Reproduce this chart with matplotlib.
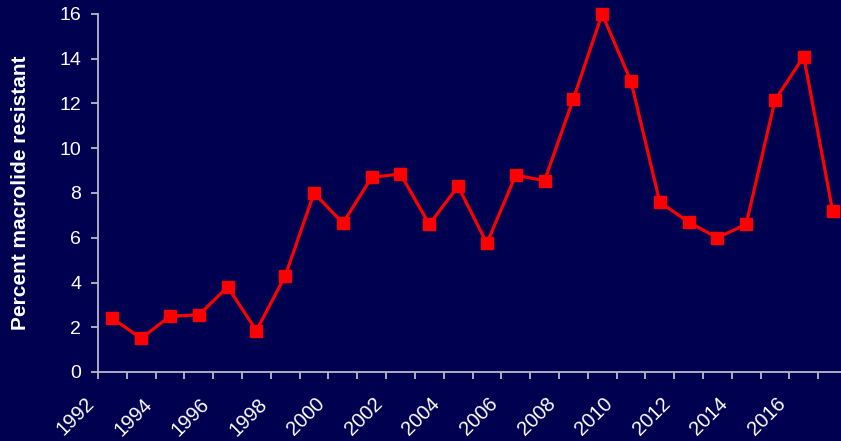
import numpy as np
import matplotlib.pyplot as plt

BG = '#000050'
AXIS_GREY = '#B8B8C8'

YEARS = list(range(1992, 2018))
PCT_RESISTANT = [2.4, 1.5, 2.5, 2.55, 3.8, 1.85, 4.3, 8.0, 6.65, 8.7, 8.85, 6.6, 8.3,
                 5.75, 8.8, 8.55, 12.2, 16.0, 13.0, 7.6, 6.7, 6.0, 6.6, 12.15, 14.1, 7.2]
YTICKS = list(range(0, 17, 2))
XTICK_YEARS = list(range(1992, 2017, 2))

plt.rcParams['font.family'] = ['Liberation Sans', 'DejaVu Sans']

fig = plt.figure(figsize=(8.41, 4.41), dpi=100, facecolor=BG)
# axis runs a little past the right edge of the canvas
ax = fig.add_axes([98 / 841, 69 / 441, 749 / 841, 358 / 441])
ax.set_facecolor(BG)

# each year sits in the middle of its category slot
x = np.array(YEARS) + 0.5
ax.plot(x, PCT_RESISTANT, color='#FF0000', lw=2.3, marker='s', ms=8.8,
        mec='#FF0000', mfc='#FF0000', clip_on=False, zorder=3)

ax.set_xlim(1992, 2018)
ax.set_ylim(0, 16)
ax.set_yticks(YTICKS)
ax.set_xticks(XTICK_YEARS)
ax.set_xticklabels([str(y) for y in XTICK_YEARS], rotation=45, ha='right', va='top')
ax.set_xticks(YEARS + [2018], minor=True)

for side in ('top', 'right'):
    ax.spines[side].set_visible(False)
for side in ('left', 'bottom'):
    ax.spines[side].set_color(AXIS_GREY)
    ax.spines[side].set_linewidth(1.3)

ax.tick_params(axis='y', colors=AXIS_GREY, labelcolor='white', labelsize=14,
               length=5, width=1.3, pad=7)
ax.tick_params(axis='x', which='both', colors=AXIS_GREY, labelcolor='white',
               labelsize=14.5, length=5, width=1.3, pad=11)

ax.set_ylabel('Percent macrolide resistant', color='white', fontsize=15,
              fontweight='bold', labelpad=21)

fig.savefig('out.png', dpi=100, facecolor=BG)
